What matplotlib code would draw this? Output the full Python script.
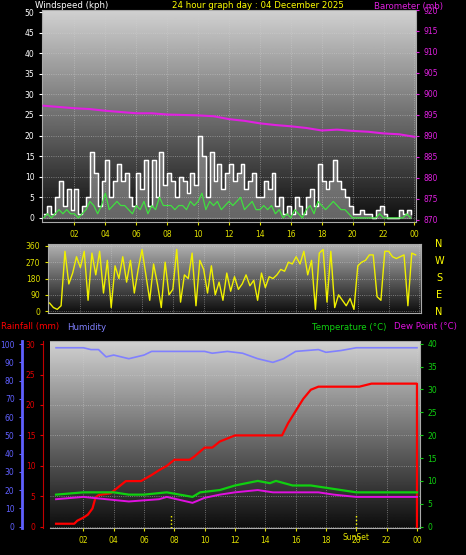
import numpy as np
import matplotlib
matplotlib.use("Agg")
import matplotlib.pyplot as plt

W, H = 466, 555

# ---- data ----
gust = [1, 3, 1, 5, 9, 3, 7, 2, 7, 1, 3, 5, 16, 11, 3, 9, 14, 5, 9, 13, 9, 11, 5, 3,
        11, 7, 14, 3, 14, 5, 16, 8, 11, 9, 5, 10, 9, 6, 11, 8, 20, 15, 5, 16, 9, 13, 7, 11,
        13, 9, 11, 13, 7, 9, 11, 5, 5, 9, 7, 11, 3, 5, 1, 3, 1, 5, 3, 1, 5, 7, 3, 13,
        9, 7, 9, 14, 9, 7, 5, 3, 1, 1, 2, 1, 1, 0, 2, 3, 1, 0, 0, 0, 2, 1, 2, 1]
avg = [0, 1, 0, 1, 2, 1, 2, 1, 1, 0, 1, 2, 4, 3, 1, 3, 6, 2, 3, 4, 3, 3, 2, 1,
       3, 2, 4, 1, 3, 2, 5, 3, 3, 3, 2, 3, 3, 2, 4, 3, 4, 6, 2, 4, 3, 4, 2, 3,
       4, 3, 4, 5, 2, 3, 4, 2, 2, 3, 2, 3, 1, 2, 0, 1, 0, 2, 1, 0, 2, 3, 1, 4,
       3, 2, 3, 4, 3, 2, 2, 1, 0, 0, 0, 0, 0, 0, 0, 1, 0, 0, 0, 0, 0, 0, 1, 0]
direction = [45, 20, 10, 30, 330, 150, 210, 300, 240, 330, 60, 320, 200, 330, 100, 280,
             20, 250, 180, 300, 160, 280, 100, 230, 340, 200, 60, 260, 150, 20, 270, 90,
             120, 340, 50, 200, 180, 320, 30, 280, 230, 100, 250, 90, 160, 60, 210, 110,
             190, 120, 150, 200, 140, 170, 60, 210, 130, 190, 180, 200, 230, 220, 270, 260,
             300, 260, 330, 200, 280, 10, 320, 340, 50, 330, 20, 90, 60, 30, 70, 10,
             250, 270, 280, 310, 310, 80, 60, 330, 330, 300, 290, 300, 310, 30, 320, 310]
baro_hours = list(range(25))
baro = [897.2, 896.9, 896.6, 896.4, 896.0, 895.7, 895.4, 895.4, 895.1, 895.0, 894.9, 894.7,
        894.0, 893.6, 893.0, 892.6, 892.3, 891.9, 891.3, 891.5, 891.2, 891.0, 890.6, 890.4, 889.8]

rain_hours = [0.2, 1.4, 1.6, 2.0, 2.3, 2.6, 2.8, 3.0, 3.8, 4.3, 4.8, 5.8, 6.5, 7.0, 7.5, 8.0,
              9.0, 9.3, 10.0, 10.5, 11.0, 12.0, 15.1, 15.5, 16.0, 16.5, 17.0, 17.5, 20.2, 21.0, 24.0, 24.0]
rain = [0.5, 0.5, 1.0, 1.5, 2.0, 3.0, 4.8, 5.2, 5.5, 6.5, 7.5, 7.5, 8.5, 9.3, 10.0, 11.0,
        11.0, 11.5, 13.0, 13.0, 14.0, 15.0, 15.0, 17.0, 19.0, 21.0, 22.5, 23.0, 23.0, 23.5, 23.5, 0.0]
hum_hours = [0.2, 2.0, 2.5, 3.0, 3.5, 4.0, 5.0, 6.0, 6.5, 7.0, 10.0, 10.5, 11.5, 12.5, 13.5,
             14.5, 15.2, 16.0, 17.5, 18.0, 19.0, 20.0, 24.0]
hum = [98, 98, 97, 97, 93, 94, 92, 94, 96, 96, 96, 95, 96, 95, 92, 90, 92, 96, 97, 95.5, 96.5, 98, 98]
temp_hours = [0.2, 2.0, 4.0, 5.0, 6.0, 7.5, 9.2, 9.7, 11.0, 12.0, 13.5, 14.3, 14.7, 15.8, 17.0,
              18.0, 20.0, 22.0, 24.0]
temp = [7.0, 7.5, 7.5, 7.0, 7.0, 7.5, 6.5, 7.5, 8.0, 9.0, 10.0, 9.5, 10.0, 9.0, 9.0, 8.5, 7.5, 7.5, 7.5]
dew_hours = [0.2, 2.0, 3.5, 5.0, 7.0, 7.5, 9.2, 10.0, 11.0, 12.0, 13.5, 14.5, 16.0, 17.5, 18.5, 20.0, 24.0]
dew = [6.0, 6.5, 6.0, 5.5, 6.0, 6.5, 5.2, 6.3, 7.0, 7.5, 8.0, 7.5, 7.5, 7.5, 7.0, 6.5, 6.5]

hour_ticks = list(range(2, 25, 2))
hour_labels = ["%02d" % (h % 24) for h in hour_ticks]
q_hours = np.arange(len(gust)) * 0.25


def ax_px(fig, x0, y0, x1, y1):
    return fig.add_axes([x0 / W, 1 - y1 / H, (x1 - x0) / W, (y1 - y0) / H])


def backdrop(ax, light=0.82):
    grad = np.linspace(light, 0.05, 256).reshape(-1, 1)
    ax.imshow(grad, cmap="gray", vmin=0, vmax=1, aspect="auto",
              extent=(0, 1, 0, 1), transform=ax.transAxes, zorder=0)
    ax.grid(True, color="#d0d0d0", ls=":", lw=0.6, alpha=0.6)
    ax.set_axisbelow(False)
    for s in ax.spines.values():
        s.set_color("#aaaaaa")


plt.rcParams["font.family"] = ["DejaVu Sans"]
fig = plt.figure(figsize=(W / 100, H / 100), dpi=100, facecolor="black")
fs = 5.5
tfs = 6.2

# ---- wind + barometer ----
ax = ax_px(fig, 42, 10, 416, 222)
backdrop(ax)
ax.set_xlim(-0.1, 24.1)
ax.set_ylim(-1, 50.5)
ax.fill_between(q_hours, gust, step="post", color="#a0a0a0", alpha=0.6, zorder=2)
ax.step(q_hours, gust, where="post", color="white", lw=1.0, zorder=3)
ax.plot(q_hours, avg, color="#40e040", lw=0.9, zorder=4)
ax.set_yticks(range(0, 51, 5))
ax.set_xticks(hour_ticks)
ax.set_xticklabels(hour_labels)
ax.tick_params(axis="y", colors="white", labelsize=fs, length=2)
ax.tick_params(axis="x", colors="#e0e000", labelsize=fs, length=2)
axb = ax.twinx()
axb.set_ylim(869.5, 920)
axb.plot(baro_hours, baro, color="#e020e0", lw=1.5, zorder=5)
axb.set_yticks(range(870, 921, 5))
axb.tick_params(colors="#e020e0", labelsize=fs, length=2)
for s in axb.spines.values():
    s.set_visible(False)
fig.text(35 / W, 1 - 6 / H, "Windspeed (kph)", color="white", fontsize=tfs, va="center")
fig.text(172 / W, 1 - 6 / H, "24 hour graph day : 04 December 2025", color="yellow", fontsize=tfs, va="center")
fig.text(443 / W, 1 - 6 / H, "Barometer (mb)", color="#e020e0", fontsize=tfs, va="center", ha="right")

# ---- wind direction ----
axd = ax_px(fig, 48, 244, 421, 313)
backdrop(axd, light=0.7)
axd.set_xlim(-0.1, 24.1)
axd.set_ylim(-10, 370)
axd.plot(q_hours, direction, color="#f0f000", lw=1.0, zorder=3)
axd.set_yticks(range(0, 361, 90))
axd.set_xticks(hour_ticks)
axd.set_xticklabels([])
axd.tick_params(axis="y", colors="#e0e000", labelsize=fs, length=2)
axd.tick_params(axis="x", length=0)
for i, c in enumerate("NWSEN"):
    fig.text(439 / W, 1 - (244 + i * 17) / H, c, color="yellow", fontsize=7, ha="center", va="center")

# ---- rain / humidity / temperature ----
axr = ax_px(fig, 50, 341, 420, 528)
backdrop(axr)
axr.set_xlim(-0.2, 24.2)
axr.set_ylim(-0.2, 30.5)
axr.plot(rain_hours, rain, color="red", lw=1.6, zorder=5)
axr.set_yticks(range(0, 31, 5))
axr.set_xticks(hour_ticks)
axr.set_xticklabels(hour_labels)
axr.tick_params(axis="y", colors="#e00000", labelsize=fs, length=2)
axr.tick_params(axis="x", colors="#e0e000", labelsize=fs, length=2)
axr.spines["left"].set_position(("outward", 5))
axr.spines["left"].set_color("#c00000")
axr.vlines([7.8, 20.0], -0.2, 1.9, colors="yellow", linestyles=":", lw=1, zorder=6)
axr.text(20.0, -1.0, "SunSet", color="#e0e000", fontsize=fs, ha="center", va="top")

axh = axr.twinx()
axh.yaxis.tick_left()
axh.yaxis.set_label_position("left")
axh.set_ylim(-0.7, 101.7)
axh.plot(hum_hours, hum, color="#8080ff", lw=1.2, zorder=4)
axh.set_yticks(range(0, 101, 10))
axh.tick_params(colors="#6060ff", labelsize=fs, length=2)
for s in axh.spines.values():
    s.set_visible(False)
axh.spines["left"].set_visible(True)
axh.spines["left"].set_position(("outward", 20))
axh.spines["left"].set_color("#6060ff")
axh.spines["left"].set_linewidth(2)

axt = axr.twinx()
axt.set_ylim(-0.3, 40.6)
axt.plot(temp_hours, temp, color="#10d010", lw=1.6, zorder=4)
axt.plot(dew_hours, dew, color="#e010e0", lw=1.4, zorder=4)
axt.set_yticks(range(0, 41, 5))
axt.tick_params(colors="#10d010", labelsize=fs, length=2)
for s in axt.spines.values():
    s.set_visible(False)

fig.text(1 / W, 1 - 327 / H, "Rainfall (mm)", color="red", fontsize=tfs, va="center")
fig.text(67 / W, 1 - 327 / H, "Humidity", color="#8080ff", fontsize=tfs, va="center")
fig.text(312 / W, 1 - 327 / H, "Temperature (°C)", color="#10d010", fontsize=tfs, va="center")
fig.text(394 / W, 1 - 327 / H, "Dew Point (°C)", color="#e010e0", fontsize=tfs, va="center")

fig.savefig("out.png", dpi=100, facecolor="black")
